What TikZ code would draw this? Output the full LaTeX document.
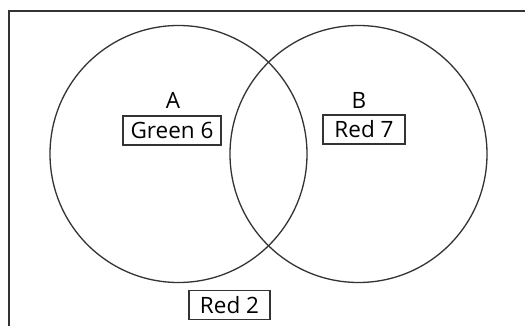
\documentclass[tikz,border=0pt]{standalone}
\usepackage{fontspec}
\setmainfont{Open Sans}
\begin{document}
\begin{tikzpicture}[x=1pt,y=-1pt,
  ln/.style={draw=black!80,line width=1.3pt},
  setc/.style={ln,circle,minimum size=257pt,inner sep=0pt},
  tag/.style={font=\fontsize{22.5}{26}\selectfont,inner sep=0pt},
  boxlbl/.style={tag,draw=black!80,line width=1.2pt,minimum height=29pt}]
\useasboundingbox (0,0) rectangle (525,326);
\fill[white] (0,0) rectangle (525,326);
\draw[ln] (9,326) -- (9,11) -- (525,11);
\node[setc] (cA) at (178.5,154) {};
\node[setc] (cB) at (358.5,154) {};
\node[tag] (lA) at (173,100) {A};
\node[tag] (lB) at (359,100) {B};
\node[boxlbl,minimum width=98pt] (g6) at (172,130.5) {Green 6};
\node[boxlbl,minimum width=82pt] (r7) at (364,129.5) {Red 7};
\node[boxlbl,minimum width=81pt] (r2) at (229.5,305) {Red 2};
\end{tikzpicture}
\end{document}
